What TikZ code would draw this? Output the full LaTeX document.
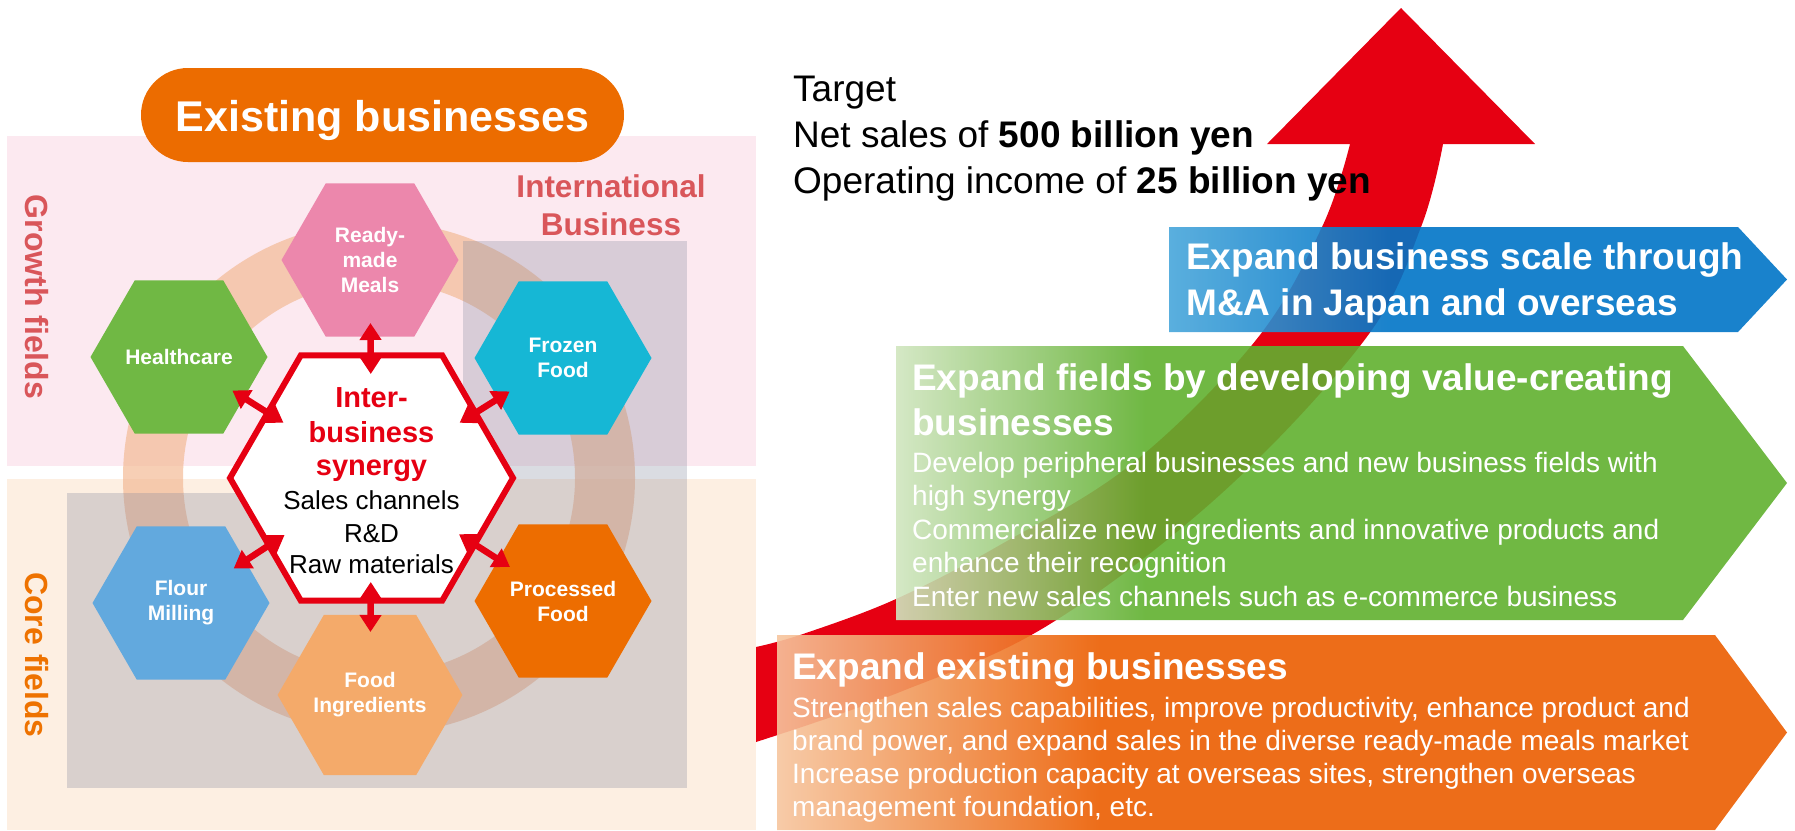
\documentclass[tikz,border=0pt]{standalone}
\usepackage{fontspec}
\setmainfont{Liberation Sans}
\usetikzlibrary{shapes.geometric,arrows.meta}

% panel and field colours
\definecolor{pinkbg}{RGB}{252,233,240}
\definecolor{peachbg}{RGB}{253,239,226}
\definecolor{ringcol}{RGB}{243,186,150}
\definecolor{veil}{RGB}{134,138,158}
\definecolor{growthred}{RGB}{217,86,90}
\definecolor{coreorange}{RGB}{238,114,0}
\definecolor{pillorange}{RGB}{236,108,0}
\definecolor{synred}{RGB}{230,0,18}
% business hexagons
\definecolor{rmcol}{RGB}{236,135,172}
\definecolor{hccol}{RGB}{112,184,68}
\definecolor{ffcol}{RGB}{22,183,213}
\definecolor{fmcol}{RGB}{98,169,222}
\definecolor{pfcol}{RGB}{237,109,0}
\definecolor{ficol}{RGB}{244,170,106}
% strategy bands
\definecolor{blueL}{RGB}{72,166,218}
\definecolor{blueD}{RGB}{0,116,198}
\definecolor{greenL}{RGB}{208,229,191}
\definecolor{greenD}{RGB}{96,176,47}
\definecolor{orangeL}{RGB}{246,197,158}
\definecolor{orangeD}{RGB}{235,93,0}

% left-to-right colour ramps; 25bp..75bp span the filled path
\pgfdeclarehorizontalshading{blueband}{100bp}{color(0bp)=(blueL); color(25bp)=(blueL); color(43bp)=(blueD); color(100bp)=(blueD)}
\pgfdeclarehorizontalshading{greenband}{100bp}{color(0bp)=(greenL); color(25bp)=(greenL); color(39bp)=(greenD); color(100bp)=(greenD)}
\pgfdeclarehorizontalshading{orangeband}{100bp}{color(0bp)=(orangeL); color(25bp)=(orangeL); color(41bp)=(orangeD); color(100bp)=(orangeD)}

\begin{document}
\begin{tikzpicture}[x=1pt,y=-1pt,
  hexa/.style={regular polygon, regular polygon sides=6, minimum size=177pt, inner sep=0pt,
               text=white, align=center, font=\fontsize{21}{25}\selectfont\bfseries},
  synlink/.style={draw=synred, line width=6.5pt,
                  {Triangle[width=21pt,length=17pt]}-{Triangle[width=21pt,length=17pt]},
                  shorten <=63pt, shorten >=104pt},
  redline/.style={text=synred, font=\fontsize{29}{34}\selectfont\bfseries, anchor=base, inner sep=0pt},
  blackline/.style={text=black, font=\fontsize{26}{32}\selectfont, anchor=base, inner sep=0pt},
  fieldlabel/.style={rotate=-90, inner sep=0pt, font=\fontsize{32}{36}\selectfont\bfseries},
  bandtitle/.style={text=white, font=\fontsize{37}{45}\selectfont\bfseries, anchor=base west, inner sep=0pt},
  bandtext/.style={text=white, font=\fontsize{28}{33.5}\selectfont, anchor=base west, inner sep=0pt},
  targettext/.style={text=black, font=\fontsize{37}{46}\selectfont, anchor=base west, inner sep=0pt},
  bandshape/.style={fill opacity=0.9}
]
\useasboundingbox (0,0) rectangle (1795,830);

% ---------- left: existing businesses ----------
\fill[pinkbg] (7,136) rectangle (756,466);
\fill[peachbg] (7,479) rectangle (756,830);

% ring linking the businesses
\fill[ringcol, fill opacity=0.7, even odd rule]
  (379,478) circle[radius=256] (379,478) circle[radius=196];

% international business areas
\fill[veil, fill opacity=0.3] (463,241) rectangle (687,493);
\fill[veil, fill opacity=0.3] (67,493) rectangle (687,788);

% business hexagons
\node[hexa, fill=rmcol] (rm) at (370,260) {Ready-\\made\\Meals};
\node[hexa, fill=hccol] (hc) at (179,357) {Healthcare};
\node[hexa, fill=ffcol] (ff) at (563,358) {Frozen\\Food};
\node[hexa, fill=fmcol] (fm) at (181,603) {Flour\\Milling};
\node[hexa, fill=pfcol] (pf) at (563,601) {Processed\\Food};
\node[hexa, fill=ficol] (fi) at (370,695) {Food\\Ingredients};

% synergy hexagon
\node[regular polygon, regular polygon sides=6, minimum size=283pt, inner sep=0pt,
      fill=white, draw=synred, line width=6pt] (syn) at (371.5,478) {};

% two-way links
\draw[synlink] (rm.center) -- (syn.center);
\draw[synlink] (hc.center) -- (syn.center);
\draw[synlink] (ff.center) -- (syn.center);
\draw[synlink] (fm.center) -- (syn.center);
\draw[synlink] (pf.center) -- (syn.center);
\draw[synlink] (fi.center) -- (syn.center);

% synergy text
\node[redline] (syn1) at (371.5,407) {Inter-};
\node[redline] (syn2) at (371.5,442) {business};
\node[redline] (syn3) at (371.5,475) {synergy};
\node[blackline] (syn4) at (371.5,509) {Sales channels};
\node[blackline] (syn5) at (371.5,542) {R\&D};
\node[blackline] (syn6) at (371.5,573) {Raw materials};

% field labels
\node[fieldlabel, text=growthred] (growth) at (37,297) {Growth fields};
\node[fieldlabel, text=coreorange] (core) at (37,655) {Core fields};
\node[anchor=base, inner sep=0pt, text=growthred, font=\fontsize{31.5}{38}\selectfont\bfseries]
  (intl1) at (611,197) {International};
\node[anchor=base, inner sep=0pt, text=growthred, font=\fontsize{31.5}{38}\selectfont\bfseries]
  (intl2) at (611,235) {Business};

% heading pill
\node[fill=pillorange, rounded corners=47pt, minimum width=483pt, minimum height=94pt,
      inner sep=0pt] (pill) at (382.5,115) {};
\node[anchor=base, inner sep=0pt, text=white, font=\fontsize{43}{50}\selectfont\bfseries]
  (pilltext) at (382.5,131) {Existing businesses};

% ---------- right: growth path ----------
\fill[synred]
  plot[smooth, tension=0.6] coordinates {(756,647) (803,634) (896,599) (1000,545) (1133,463)
                                         (1256,340) (1322,227) (1350,144)}
  -- (1267,144) -- (1401,8) -- (1535,144) -- (1443,144)
  -- plot[smooth, tension=0.6] coordinates {(1443,144) (1421,227) (1366,338) (1222,493)
                                            (1050,624) (900,692) (756,742)}
  -- cycle;

% strategy bands
\shade[shading=blueband, bandshape]
  (1169,227) -- (1738,227) -- (1787,279.5) -- (1738,332) -- (1169,332) -- cycle;
\shade[shading=greenband, bandshape]
  (896,346) -- (1683,346) -- (1787,483) -- (1683,620) -- (896,620) -- cycle;
\shade[shading=orangeband, bandshape]
  (777,635) -- (1715,635) -- (1787,732.5) -- (1715,830) -- (777,830) -- cycle;

% target
\node[targettext] (t1) at (793,101) {Target};
\node[targettext] (t2) at (793,147) {Net sales of \textbf{500 billion yen}};
\node[targettext] (t3) at (793,193) {Operating income of \textbf{25 billion yen}};

% band texts
\node[bandtitle] (b1) at (1186,269) {Expand business scale through};
\node[bandtitle] (b2) at (1186,315) {M\&A in Japan and overseas};

\node[bandtitle] (g1) at (912,390) {Expand fields by developing value-creating};
\node[bandtitle] (g2) at (912,435) {businesses};
\node[bandtext] (g3) at (912,472) {Develop peripheral businesses and new business fields with};
\node[bandtext] (g4) at (912,505.5) {high synergy};
\node[bandtext] (g5) at (912,539) {Commercialize new ingredients and innovative products and};
\node[bandtext] (g6) at (912,572.5) {enhance their recognition};
\node[bandtext] (g7) at (912,606) {Enter new sales channels such as e-commerce business};

\node[bandtitle] (o1) at (792,679) {Expand existing businesses};
\node[bandtext] (o2) at (792,717) {Strengthen sales capabilities, improve productivity, enhance product and};
\node[bandtext] (o3) at (792,750) {brand power, and expand sales in the diverse ready-made meals market};
\node[bandtext] (o4) at (792,783) {Increase production capacity at overseas sites, strengthen overseas};
\node[bandtext] (o5) at (792,816) {management foundation, etc.};
\end{tikzpicture}
\end{document}
